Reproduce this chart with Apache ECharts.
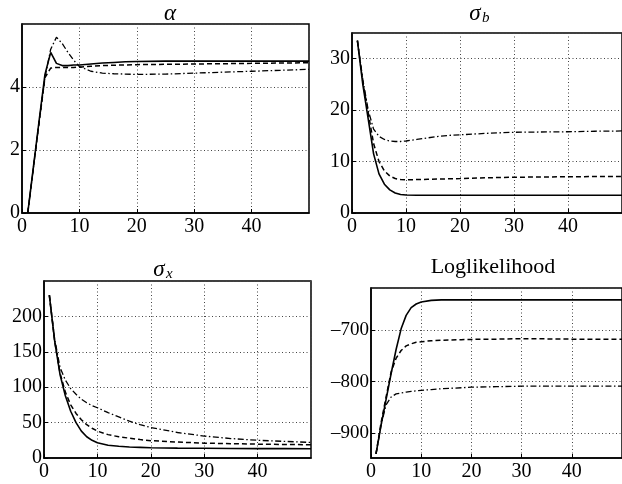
<!DOCTYPE html>
<html>
<head>
<meta charset="utf-8">
<script src="https://cdn.jsdelivr.net/npm/echarts@6/dist/echarts.min.js"></script>
<style>
  html, body { margin: 0; padding: 0; background: #fff; }
  #chart { width: 622px; height: 484px; }
</style>
</head>
<body>
<div id="chart"></div>
<script>
var chart = echarts.init(document.getElementById('chart'));

// iterations (shared x values)
var iters = [1, 2, 3, 4, 5, 6, 7, 8, 9, 10, 12, 14, 16, 18, 20, 25, 30, 35, 40, 45, 50];

// alpha
var alphaSolid   = [0, 1.48, 2.96, 4.4, 5.1, 4.75, 4.68, 4.68, 4.7, 4.7, 4.73, 4.76, 4.78, 4.8, 4.81, 4.82, 4.82, 4.82, 4.82, 4.82, 4.82];
var alphaDash    = [0, 1.45, 2.9, 4.3, 4.6, 4.62, 4.62, 4.62, 4.62, 4.63, 4.66, 4.68, 4.69, 4.7, 4.71, 4.72, 4.73, 4.74, 4.75, 4.76, 4.77];
var alphaDashDot = [0, 1.45, 2.9, 4.3, 5.2, 5.58, 5.38, 5.1, 4.85, 4.65, 4.5, 4.44, 4.42, 4.41, 4.4, 4.41, 4.44, 4.47, 4.5, 4.53, 4.56];

// sigma_b
var sbSolid   = [33.5, 25, 18.3, 11.5, 7.6, 5.6, 4.5, 3.9, 3.6, 3.5, 3.45, 3.45, 3.45, 3.45, 3.45, 3.45, 3.45, 3.45, 3.45, 3.45, 3.45];
var sbDash    = [33.5, 25.5, 19.5, 13.5, 10, 8.2, 7.2, 6.7, 6.5, 6.45, 6.5, 6.55, 6.6, 6.65, 6.7, 6.85, 6.95, 7.0, 7.05, 7.08, 7.1];
var sbDashDot = [33.5, 26, 20, 16.3, 14.9, 14.3, 14.0, 13.9, 13.9, 14.0, 14.3, 14.6, 14.9, 15.1, 15.2, 15.5, 15.7, 15.75, 15.8, 15.9, 15.95];

// sigma_x
var sxSolid   = [230, 165, 118, 88, 66, 50, 38, 30, 25, 21.5, 18, 16.5, 15.5, 15, 14.5, 14, 13.7, 13.5, 13.3, 13.2, 13];
var sxDash    = [230, 165, 120, 93, 75, 63, 54, 47, 42, 38, 33, 30, 28, 26, 24.5, 22.5, 21, 20.2, 19.6, 19.1, 18.7];
var sxDashDot = [230, 168, 128, 110, 98, 90, 83, 78, 74, 71, 64, 58, 52, 47, 43, 36, 31, 27.5, 25, 23.5, 22];

// loglikelihood
var llSolid   = [-940, -885, -835, -785, -738, -698, -672, -657, -650, -646, -643, -642, -642, -642, -642, -642, -642, -642, -642, -642, -642];
var llDash    = [-940, -880, -830, -782, -755, -740, -731, -727, -724, -723, -721, -720, -719.5, -719, -718.5, -718, -717, -717.5, -718, -718, -718];
var llDashDot = [-940, -885, -845, -830, -824, -822, -820.5, -819, -818, -817, -815.5, -814, -813, -812, -811, -810, -809, -809, -809, -809, -809];

var font = 'Liberation Serif, DejaVu Serif, serif';

function pairs(ys) {
    return iters.map(function (x, i) { return [x, ys[i]]; });
}

var styles = [
    { type: 'solid', width: 1.6 },
    { type: [5, 3], width: 1.5 },
    { type: [6, 2.5, 1.5, 2.5], width: 1.3 }
];

var grids = [
    { left: 22, top: 24, width: 287, height: 189 },
    { left: 352, top: 33, width: 275, height: 180 },
    { left: 44, top: 281, width: 267, height: 177 },
    { left: 371, top: 288, width: 257, height: 170 }
];
grids.forEach(function (g) {
    g.show = true;
    g.borderColor = '#000';
    g.borderWidth = 1.5;
    g.containLabel = false;
});

var gridLine = { show: true, lineStyle: { color: '#444', width: 1, type: [1, 2.5] } };

function xAxisFor(i) {
    return {
        gridIndex: i, type: 'value', min: 0, max: 50, interval: 10,
        axisLine: { show: true, lineStyle: { color: '#000', width: 1.5 } },
        axisTick: { show: true, inside: true, length: 4, lineStyle: { color: '#000' } },
        axisLabel: { color: '#000', fontFamily: font, fontSize: 20, margin: 4, showMaxLabel: false },
        splitLine: gridLine
    };
}

function yAxisFor(i, opts) {
    var ax = {
        gridIndex: i, type: 'value',
        axisLine: { show: true, lineStyle: { color: '#000', width: 1.5 } },
        axisTick: { show: true, inside: true, length: 4, lineStyle: { color: '#000' } },
        axisLabel: { color: '#000', fontFamily: font, fontSize: 20, margin: 2, showMaxLabel: false },
        splitLine: gridLine
    };
    for (var k in opts) ax[k] = opts[k];
    return ax;
}

var yAxes = [
    yAxisFor(0, { min: 0, max: 6, interval: 2 }),
    yAxisFor(1, { min: 0, max: 35, interval: 10 }),
    yAxisFor(2, { min: 0, max: 250, interval: 50 }),
    yAxisFor(3, { min: -948, max: -619, splitNumber: 3 })
];
yAxes[3].axisLabel.showMinLabel = false;
yAxes[3].axisLabel.fontSize = 19;
yAxes[3].axisLabel.formatter = function (v) {
    return String(v).replace('-', '\u2013');
};

var panels = [
    [alphaSolid, alphaDash, alphaDashDot],
    [sbSolid, sbDash, sbDashDot],
    [sxSolid, sxDash, sxDashDot],
    [llSolid, llDash, llDashDot]
];

var series = [];
panels.forEach(function (lines, p) {
    lines.forEach(function (ys, k) {
        series.push({
            type: 'line',
            xAxisIndex: p,
            yAxisIndex: p,
            data: pairs(ys),
            showSymbol: false,
            smooth: false,
            lineStyle: { color: '#000', type: styles[k].type, width: styles[k].width },
            z: 3 - k
        });
    });
});

var greek = { color: '#000', fontFamily: font, fontSize: 23, fontStyle: 'italic', fontWeight: 'normal' };
var sub = { color: '#000', fontFamily: font, fontSize: 15, fontStyle: 'italic', fontWeight: 'normal' };

var option = {
    animation: false,
    backgroundColor: '#fff',
    title: [
        { text: '\u03b1', left: 165, top: -3, textAlign: 'center', textStyle: greek },
        { text: '\u03c3', left: 470, top: -3, textAlign: 'center', textStyle: greek },
        { text: 'b', left: 477, top: 6, textStyle: sub },
        { text: '\u03c3', left: 154, top: 253, textAlign: 'center', textStyle: greek },
        { text: 'x', left: 161, top: 262, textStyle: sub },
        { text: 'Loglikelihood', left: 488, top: 251, textAlign: 'center',
          textStyle: { color: '#000', fontFamily: font, fontSize: 22, fontWeight: 'normal' } }
    ],
    grid: grids,
    xAxis: [xAxisFor(0), xAxisFor(1), xAxisFor(2), xAxisFor(3)],
    yAxis: yAxes,
    series: series
};

chart.setOption(option);
</script>
</body>
</html>
